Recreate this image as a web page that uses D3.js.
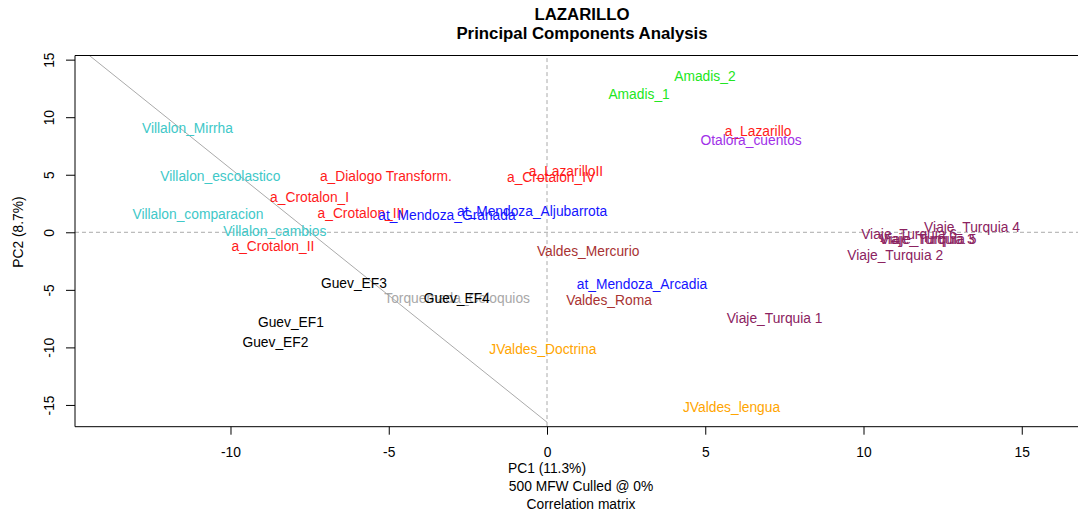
<!DOCTYPE html>
<html>
<head>
<meta charset="utf-8">
<script src="https://cdn.jsdelivr.net/npm/d3@7"></script>
<style>
body{margin:0;background:#fff;}
svg{display:block;font-family:"Liberation Sans",Arial,sans-serif;}
</style>
</head>
<body>
<svg id="chart" width="1078" height="516"></svg>
<script>
const labels = ["Amadis_2","Amadis_1","a_Lazarillo","Otalora_cuentos","Villalon_Mirrha","Villalon_escolastico",
"a_Dialogo Transform.","a_LazarilloII","a_Crotalon_IV","a_Crotalon_I","a_Crotalon_III","at_Mendoza_Granada",
"at_Mendoza_Aljubarrota","Villalon_comparacion","Villalon_cambios","a_Crotalon_II","Valdes_Mercurio",
"Viaje_Turquia 4","Viaje_Turquia 6","Viaje_Turquia 3","Viaje_Turquia 5","Viaje_Turquia 2","at_Mendoza_Arcadia",
"Guev_EF3","Torquemada_Coloquios","Guev_EF4","Valdes_Roma","Viaje_Turquia 1","Guev_EF1","Guev_EF2",
"JValdes_Doctrina","JValdes_lengua"];
const pc1 = [4.99,2.91,6.67,6.45,-11.36,-10.32,
-5.09,0.6,0.13,-7.5,-5.88,-3.16,
-0.47,-11.03,-8.6,-8.66,1.3,
13.43,11.44,12.0,12.05,11.0,3.0,
-6.1,-2.84,-2.85,1.96,7.19,-8.09,-8.58,
-0.13,5.83];
const pc2 = [13.5,11.93,8.8,8.0,9.06,4.89,
4.89,5.3,4.75,2.98,1.6,1.45,
1.8,1.55,0.08,-1.2,-1.7,
0.45,-0.15,-0.65,-0.6,-2.05,-4.55,
-4.45,-5.75,-5.75,-5.9,-7.5,-7.8,-9.6,
-10.2,-15.2];
const groups = ["Amadis","Amadis","anon","Otalora","Villalon","Villalon",
"anon","anon","anon","anon","anon","Mendoza",
"Mendoza","Villalon","Villalon","anon","Valdes",
"Viaje","Viaje","Viaje","Viaje","Viaje","Mendoza",
"Guev","Torquemada","Guev","Valdes","Viaje","Guev","Guev",
"JValdes","JValdes"];
const groupNames = ["Amadis","anon","Otalora","Villalon","Mendoza","Valdes","Viaje","Guev","Torquemada","JValdes"];
const groupColors = ["#22e622","#ff1a1a","#a030e8","#40c8c8","#1414ff","#a83232","#8b2260","#000000","#a8a8a8","#ffa500"];
const xTicks = [-10,-5,0,5,10,15];
const yTicks = [-15,-10,-5,0,5,10,15];
const diagLine = [{x:-14.5,y:15.45},{x:0,y:-16.5}];

const svg = d3.select("#chart");
const x = d3.scaleLinear().domain([-14.913,17.156]).range([75,1090]);
const y = d3.scaleLinear().domain([-16.89,15.36]).range([426.7,55.5]);
const color = d3.scaleOrdinal().domain(groupNames).range(groupColors);
const FS = 13.8;

svg.append("clipPath").attr("id","clip").append("rect")
  .attr("x",75).attr("y",55.5).attr("width",1015).attr("height",371.2);

const g = svg.append("g").attr("clip-path","url(#clip)");
g.append("line").attr("x1",x(-20)).attr("x2",x(20)).attr("y1",y(0)).attr("y2",y(0))
  .attr("stroke","#aaa").attr("stroke-dasharray","4,3").attr("stroke-width",1);
g.append("line").attr("x1",x(0)).attr("x2",x(0)).attr("y1",y(20)).attr("y2",y(-20))
  .attr("stroke","#aaa").attr("stroke-dasharray","4,3").attr("stroke-width",1);
g.append("path").datum(diagLine)
  .attr("d",d3.line().x(d=>x(d.x)).y(d=>y(d.y)))
  .attr("stroke","#aaa").attr("fill","none").attr("stroke-width",1);

g.selectAll("text.pt").data(labels).join("text").attr("class","pt")
  .attr("x",(d,i)=>x(pc1[i])).attr("y",(d,i)=>y(pc2[i]))
  .attr("text-anchor","middle").attr("dominant-baseline","central")
  .attr("font-size",FS).attr("fill",(d,i)=>color(groups[i])).text(d=>d);

svg.append("path").attr("d",`M1100,${y.range()[1]}H75V${y.range()[0]}H1100`)
  .attr("fill","none").attr("stroke","#000").attr("stroke-width",1);

const xa = svg.append("g").attr("transform","translate(0,426.7)")
  .call(d3.axisBottom(x).tickValues(xTicks).tickSize(8).tickPadding(13).tickFormat(d=>d));
xa.select(".domain").remove();
xa.selectAll("text").attr("font-size",FS).attr("font-family","Liberation Sans, Arial, sans-serif").attr("fill","#000");

const ya = svg.append("g").attr("transform","translate(75,0)")
  .call(d3.axisLeft(y).tickValues(yTicks).tickSize(9).tickFormat(d=>d));
ya.select(".domain").remove();
ya.selectAll("text").attr("font-size",FS).attr("font-family","Liberation Sans, Arial, sans-serif").attr("fill","#000")
  .attr("text-anchor","middle").attr("dy","0.35em")
  .each(function(d){d3.select(this).attr("transform",`translate(-26,0) rotate(-90)`).attr("x",0).attr("y",0);});

svg.append("text").attr("x",582).attr("y",20).attr("text-anchor","middle")
  .attr("font-weight","bold").attr("font-size",16.8).text("LAZARILLO");
svg.append("text").attr("x",582).attr("y",39).attr("text-anchor","middle")
  .attr("font-weight","bold").attr("font-size",16.8).text("Principal Components Analysis");
svg.append("text").attr("x",547).attr("y",473).attr("text-anchor","middle").attr("font-size",FS).text("PC1 (11.3%)");
svg.append("text").attr("x",581).attr("y",491).attr("text-anchor","middle").attr("font-size",FS).text("500 MFW  Culled @ 0%");
svg.append("text").attr("x",581).attr("y",509).attr("text-anchor","middle").attr("font-size",FS).text("Correlation matrix");
svg.append("text").attr("transform","translate(23,232) rotate(-90)").attr("text-anchor","middle").attr("font-size",FS).text("PC2 (8.7%)");
</script>
</body>
</html>
